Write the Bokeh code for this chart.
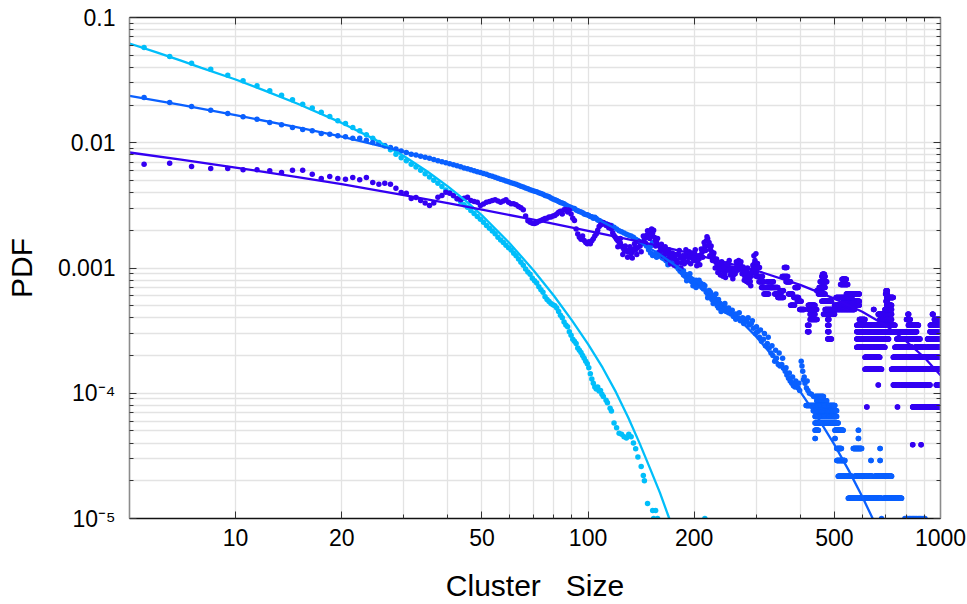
from bokeh.plotting import figure
from bokeh.models import FixedTicker, LogAxis, CustomJSTickFormatter, Range1d
from bokeh.embed import file_html
from bokeh.resources import INLINE

# ---------------- data ----------------
x_tick_values = [10, 20, 50, 100, 200, 500, 1000]
x_tick_labels = ["10", "20", "50", "100", "200", "500", "1000"]
x_minor_values = [30, 40, 60, 70, 80, 90, 300, 400, 600, 700, 800, 900]
y_tick_values = [1e-5, 1e-4, 1e-3, 1e-2, 1e-1]
y_tick_labels = ["10\u207b\u2075", "10\u207b\u2074", "0.001", "0.01", "0.1"]
y_minor_values = [m * d for d in [1e-5, 1e-4, 1e-3, 1e-2] for m in range(2, 10)]

# series 1 (cyan): cluster size, PDF
cyan_points = [(5.5,0.0575),(6.5,0.0489),(7.5,0.0431),(8.5,0.0386),(9.5,0.0346),(10.5,0.0312),(11.5,0.0285),(12.5,0.0260),(13.5,0.0240),(14.5,0.0220),(15.5,0.0203),(16.5,0.0189),(17.5,0.0175),(18.5,0.0162),(19.5,0.0150),(20.5,0.01425),(21.5,0.01324),(22.5,0.01245),(23.5,0.01156),(24.5,0.01088),(25.5,0.01005),(26.5,0.00945),(27.5,0.00878),(28.5,0.0081),(29.5,0.0076),(30.5,0.00717),(31.5,0.00674),(32.5,0.0064),(33.5,0.00603),(34.5,0.00566),(35.5,0.00532),(36.5,0.00503),(37.5,0.00474),(38.5,0.00447),(39.5,0.0042),(40.5,0.004),(41.5,0.00377),(42.5,0.00358),(43.5,0.00338),(44.5,0.0032),(45.5,0.00305),(46.5,0.00288),(47.5,0.00272),(48.5,0.00258),(49.5,0.00245),(50.5,0.00232),(51.5,0.00218),(52.5,0.00208),(53.5,0.00197),(54.5,0.00188),(55.5,0.00176),(56.5,0.00167),(57.5,0.0016),(58.5,0.00152),(59.5,0.00145),(60.5,0.00139),(61.5,0.00131),(62.5,0.00125),(63.5,0.00118),(64.5,0.00111),(65.5,0.00105),(66.5,0.00098),(67.5,0.00093),(68.5,0.00089),(69.5,0.00083),(70.5,0.00079),(71.5,0.00076),(72.5,0.00071),(73.5,0.00067),(74.5,0.00064),(75.5,0.00059),(76.5,0.00056),(77.5,0.00054),(78.5,0.00052),(79.5,0.00051),(80.5,0.0005),(81.5,0.00048),(82.5,0.00045),(83.5,0.00042),(84.5,0.0004),(85.5,0.00037),(86.5,0.00035),(87.5,0.00034),(88.5,0.00031),(89.5,0.00029),(90.5,0.00027),(91.5,0.00026),(92.5,0.00025),(93.5,0.00023),(94.5,0.00022),(95.5,0.000212),(96.5,0.0002),(97.5,0.00019),(98.5,0.00018),(99.5,0.000172),(100.5,0.00016),(101.5,0.000143),(102.5,0.00013),(103.5,0.00012),(104.5,0.000112),(105.5,0.000108),(106.5,0.000112),(107.5,0.000104),(108.5,0.000105),(109.5,0.000098),(110.5,0.000094),(112.5,0.000088),(113.5,0.000084),(115.5,0.000076),(116.5,0.000072),(118.5,0.000058),(120.5,0.000053),(122.5,0.000048),(124.5,0.000047),(126.5,0.000045),(128.5,0.000044),(130.5,0.000047),(132.5,0.000045),(134.5,0.00004),(136.5,0.000036),(138.5,0.000031),(141.5,0.000026),(143.5,0.000022),(144.5,0.00002),(147.5,0.0000132),(152.5,0.0000116),(155.5,0.0000116),(153.5,0.00001),(157.5,0.00001),(214.5,0.00001)]

# series 2 (blue)
blue_points = [(5.5,0.023),(6.5,0.021),(7.5,0.0195),(8.5,0.0182),(9.5,0.0171),(10.5,0.0161),(11.5,0.0154),(12.5,0.0145),(13.5,0.0139),(14.5,0.01324),(15.5,0.01276),(16.5,0.01245),(17.5,0.01185),(18.5,0.0117),(19.5,0.01135),(20.5,0.01116),(21.5,0.01087),(22.5,0.01087),(23.5,0.01047),(24.5,0.01004),(25.5,0.00986),(26.5,0.00945),(27.5,0.00916),(28.5,0.0089),(29.5,0.0086),(30.5,0.00835),(31.5,0.0081),(32.5,0.008),(33.5,0.0078),(34.5,0.00765),(35.5,0.00752),(36.5,0.00735),(37.5,0.00718),(38.5,0.00705),(39.5,0.00692),(40.5,0.0068),(41.5,0.00668),(42.5,0.00655),(43.5,0.00642),(44.5,0.0063),(45.5,0.0062),(46.5,0.00608),(47.5,0.00598),(48.5,0.00588),(49.5,0.00578),(50.5,0.00568),(51.5,0.0056),(52.5,0.00548),(53.5,0.0054),(54.5,0.0053),(55.5,0.0052),(56.5,0.00512),(57.5,0.00504),(58.5,0.00496),(59.5,0.00488),(60.5,0.0048),(61.5,0.00472),(62.5,0.00466),(63.5,0.00458),(64.5,0.0045),(65.5,0.00444),(66.5,0.00436),(67.5,0.0043),(68.5,0.00422),(69.5,0.00416),(70.5,0.0041),(71.5,0.00406),(72.5,0.00398),(73.5,0.00394),(74.5,0.00388),(75.5,0.0038),(76.5,0.00376),(77.5,0.0037),(78.5,0.00362),(79.5,0.00356),(80.5,0.0035),(81.5,0.00346),(82.5,0.0034),(83.5,0.00334),(84.5,0.0033),(85.5,0.00326),(86.5,0.00318),(87.5,0.00312),(88.5,0.00308),(89.5,0.00304),(90.5,0.003),(91.5,0.00298),(92.5,0.0029),(93.5,0.00287),(94.5,0.00282),(95.5,0.0028),(96.5,0.00276),(97.5,0.0027),(98.5,0.00268),(99.5,0.00266),(100.5,0.00262),(101.5,0.00258),(102.5,0.00256),(103.5,0.0025),(104.5,0.00254),(105.5,0.00248),(106.5,0.00242),(107.5,0.0024),(108.5,0.00236),(110.5,0.0023),(112.5,0.00226),(114.5,0.0022),(116.5,0.00218),(118.5,0.00212),(120.5,0.00205),(122.5,0.00198),(124.5,0.00195),(126.5,0.0019),(128.5,0.00186),(130.5,0.00183),(132.5,0.0018),(134.5,0.00176),(136.5,0.0017),(138.5,0.00166),(140.5,0.00162),(142.5,0.0016),(144.5,0.00156),(146.5,0.0015),(148.5,0.0014),(150.5,0.00132),(152.5,0.00126),(154.5,0.00128),(156.5,0.00132),(158.5,0.00128),(160.5,0.00124),(162.5,0.0012),(164.5,0.00118),(166.5,0.00114),(168.5,0.00112),(170.5,0.0011),(172.5,0.00115),(174.5,0.00112),(176.5,0.00108),(178.5,0.00102),(180.5,0.00098),(182.5,0.00094),(184.5,0.00092),(186.5,0.00088),(188.5,0.00086),(190.5,0.00084),(192.5,0.00088),(194.5,0.00082),(196.5,0.00078),(198.5,0.0008),(200.5,0.00076),(202.5,0.0008),(204.5,0.00074),(206.5,0.00072),(208.5,0.00076),(210.5,0.0007),(212.5,0.00068),(214.5,0.00072),(216.5,0.00064),(218.5,0.00062),(220.5,0.00066),(222.5,0.0006),(224.5,0.00056),(226.5,0.00052),(228.5,0.00058),(230.5,0.00054),(232.5,0.0005),(234.5,0.00048),(236.5,0.00052),(238.5,0.00049),(240.5,0.0005),(242.5,0.00046),(244.5,0.00048),(246.5,0.00045),(248.5,0.00047),(250.5,0.00044),(254.5,0.00043),(258.5,0.00041),(262.5,0.00043),(266.5,0.0004),(270.5,0.00038),(274.5,0.0004),(278.5,0.00039),(282.5,0.00037),(286.5,0.00035),(290.5,0.00036),(294.5,0.00033),(298.5,0.0003),(302.5,0.00031),(306.5,0.00028),(310.5,0.00026),(314.5,0.00027),(318.5,0.00024),(322.5,0.00025),(326.5,0.00023),(330.5,0.00021),(334.5,0.0002),(338.5,0.00018),(342.5,0.00019),(346.5,0.00017),(350.5,0.000165),(354.5,0.00017),(358.5,0.000158),(362.5,0.00015),(366.5,0.00014),(370.5,0.000132),(374.5,0.000125),(378.5,0.00012),(382.5,0.000115),(386.5,0.000112),(390.5,0.000118),(394.5,0.00011),(398.5,0.000105),(402.5,0.00018),(404.5,0.000165),(406.5,0.00015),(408.5,0.000128),(412.5,0.00012),(416.5,0.00011),(420.5,0.000105),(424.5,0.0001),(430.5,0.000098),(436.5,0.000094),
  (150.5,0.0015),(152.5,0.0016),(156.5,0.00122),(160.5,0.00132),(164.5,0.00126),(168.5,0.00106),(176.5,0.00118),(182.5,0.001),(186.5,0.00095),(190.5,0.00079),(194.5,0.0009),(198.5,0.00072),(202.5,0.0007),(206.5,0.0008),(212.5,0.00074),(218.5,0.00058),(222.5,0.00064),(226.5,0.0006),(230.5,0.00062),(234.5,0.00056),(238.5,0.00045),(244.5,0.00052),(250.5,0.00048),(256.5,0.00046),(262.5,0.00039),(268.5,0.00044),(276.5,0.00036),(284.5,0.0004),(292.5,0.00038),(300.5,0.00034),(308.5,0.00032),(316.5,0.0003),(324.5,0.00028),(332.5,0.00024),(340.5,0.00022),(348.5,0.00021),(356.5,0.00019),(364.5,0.00016),(372.5,0.000145),(380.5,0.000135),(388.5,0.000125),(396.5,0.00012),(410.5,0.000135),(418.5,0.000125),
  (680.5,0.00001),(792.5,0.00001),(800.5,0.00001),(806.5,0.00001),(815.5,0.00001),(822.5,0.00001),(830.5,0.00001),(838.5,0.00001),(846.5,0.00001),(855.5,0.00001),(864.5,0.00001),(872.5,0.00001),(880.5,0.00001),(892.5,0.00001),(903.5,0.00001)]
blue_quantum = 7.25e-6
blue_runs = [(13,440,465),(12,445,475),(11,415,501),(10,435,507),(9,440,507),(8,440,512),(7,440,450),(7,501,529),(6,440,441),(6,501,502),(6,584,585),(7,584,585),(5,507,523),(5,565,597),(5,673,674),(4,507,535),(4,634,635),(4,673,674),(3,512,560),(3,570,640),(3,650,726),(2,547,600),(2,605,680),(2,690,775)]

# series 3 (violet)
violet_points = [(5.5,0.00674),(6.5,0.00687),(7.5,0.00646),(8.5,0.00622),(9.5,0.00622),(10.5,0.00608),(11.5,0.00608),(12.5,0.00597),(13.5,0.00579),(14.5,0.00604),(15.5,0.00604),(16.5,0.00561),(17.5,0.00519),(18.5,0.00538),(19.5,0.00519),(20.5,0.00512),(21.5,0.00528),(22.5,0.00506),(23.5,0.00528),(24.5,0.00482),(25.5,0.00467),(26.5,0.00475),(27.5,0.00467),(28.5,0.00434),(29.5,0.00401),(30.5,0.00396),(31.5,0.00359),(32.5,0.00366),(33.5,0.00346),(34.5,0.0033),(35.5,0.00315),(36.5,0.0033),(37.5,0.00367),(38.5,0.0038),(39.5,0.00403),(40.5,0.00396),(41.5,0.0038),(42.5,0.00357),(43.5,0.0035),(44.5,0.0036),(45.5,0.00367),(46.5,0.00346),(47.5,0.0034),(48.5,0.00335),(49.5,0.00315),(50.5,0.00325),(51.5,0.00335),(52.5,0.0034),(53.5,0.00346),(54.5,0.0035),(55.5,0.00342),(56.5,0.00335),(57.5,0.00342),(58.5,0.0035),(59.5,0.00335),(60.5,0.00326),(61.5,0.00326),(62.5,0.0032),(63.5,0.0031),(64.5,0.00303),(65.5,0.00292),(66.5,0.0026),(67.5,0.00238),(68.5,0.00232),(69.5,0.00228),(70.5,0.00227),(71.5,0.0023),(72.5,0.00236),(73.5,0.0024),(74.5,0.00244),(75.5,0.00248),(76.5,0.0025),(77.5,0.00255),(78.5,0.00255),(79.5,0.0026),(80.5,0.00263),(81.5,0.0027),(82.5,0.00279),(83.5,0.00284),(84.5,0.0027),(85.5,0.00292),(86.5,0.00292),(87.5,0.0028),(88.5,0.00292),(89.5,0.0027),(90.5,0.0025),(91.5,0.0024),(92.5,0.00205),(93.5,0.00187),(94.5,0.00176),(95.5,0.0017),(96.5,0.0018),(97.5,0.00166),(98.5,0.0016),(99.5,0.00156),(100.5,0.00162),(101.5,0.00156),(102.5,0.00165),(103.5,0.00171),(104.5,0.0018),(105.5,0.00187),(106.5,0.002),(107.5,0.00214),(108.5,0.0022),(109.5,0.00225),(110.5,0.00231),(111.5,0.00225),(112.5,0.00218),(113.5,0.00222),(114.5,0.0021),(115.5,0.00218),(116.5,0.00205),(117.5,0.0019),(118.5,0.00182),(119.5,0.00176),(120.5,0.0017),(121.5,0.00165),(122.5,0.00161),(123.5,0.00158),(124.5,0.0015),(125.5,0.00146),(126.5,0.0014),(127.5,0.00138),(128.5,0.00138),(129.5,0.00134),(130.5,0.00138),(131.5,0.00134),(132.5,0.0013),(133.5,0.00134),(134.5,0.0014),(135.5,0.00143),(136.5,0.0014),(138.5,0.00146),(140.5,0.0015),(142.5,0.0016),(144.5,0.00171),(146.5,0.00182),(148.5,0.0019),(150.5,0.002),(151.5,0.00205),(152.5,0.0019),(154.5,0.00175),(155.5,0.00165),(156.5,0.0016),(158.5,0.00151),(160.5,0.00145),(162.5,0.0014),(164.5,0.00138),(166.5,0.00135),(168.5,0.0013),(170.5,0.00125),(172.5,0.0012),(174.5,0.00122),(176.5,0.00118),(178.5,0.00115),(180.5,0.00128),(182.5,0.0012),(184.5,0.0011),(186.5,0.00118),(188.5,0.00126),(190.5,0.0013),(192.5,0.00122),(194.5,0.00126),(196.5,0.0012),(198.5,0.00126),(200.5,0.00131),(202.5,0.0012),(204.5,0.00112),(206.5,0.00118),(208.5,0.00126),(210.5,0.00133),(212.5,0.00138),(214.5,0.0015),(216.5,0.00165),(218.5,0.00171),(220.5,0.0016),(222.5,0.0014),(224.5,0.00134),(226.5,0.00125),(228.5,0.00118),(230.5,0.00111),(232.5,0.00105),(234.5,0.001),(236.5,0.00095),(238.5,0.00098),(240.5,0.00105),(242.5,0.00095),(244.5,0.0009),(246.5,0.00098),(248.5,0.00101),(250.5,0.00108),(252.5,0.001),(254.5,0.00094),(256.5,0.0009),(258.5,0.00088),(260.5,0.00092),(262.5,0.001),(264.5,0.00108),(266.5,0.00104),(268.5,0.0011),(270.5,0.00106),(272.5,0.001),(274.5,0.00096),(276.5,0.0009),(278.5,0.00086),(280.5,0.00085),(282.5,0.00094),(284.5,0.0009),(286.5,0.00082),(288.5,0.00078),(290.5,0.00086),(292.5,0.00095),
  (121.5,0.00148),(123.5,0.00172),(125.5,0.00128),(127.5,0.0015),(129.5,0.00122),(131.5,0.00148),(133.5,0.0012),(135.5,0.00156),(137.5,0.00128),(139.5,0.00162),(141.5,0.00135),(143.5,0.0018),(145.5,0.00158),(147.5,0.00198),(149.5,0.00172),(151.5,0.00185),(153.5,0.002),(155.5,0.0015),(157.5,0.00172),(159.5,0.00135),(161.5,0.00155),(163.5,0.00125),(165.5,0.00148),(167.5,0.00118),(169.5,0.0014),(171.5,0.00108),(173.5,0.00132),(175.5,0.00105),(177.5,0.00128),(179.5,0.0011),(181.5,0.00138),(183.5,0.001),(185.5,0.00125),(187.5,0.00108),(189.5,0.0014),(191.5,0.00112),(193.5,0.00135),(195.5,0.00108),(197.5,0.00132),(199.5,0.00115),(201.5,0.0014),(203.5,0.00104),(205.5,0.00125),(207.5,0.00106),(209.5,0.00142),(211.5,0.00122),(213.5,0.0016),(215.5,0.00138),(217.5,0.00178),(219.5,0.0015),(221.5,0.00125),(223.5,0.0015),(225.5,0.00115),(227.5,0.00132),(229.5,0.001),(231.5,0.00118),(233.5,0.00092),(235.5,0.00108),(237.5,0.00088),(239.5,0.00112),(241.5,0.00086),(243.5,0.00102),(245.5,0.00084),(247.5,0.00108),(249.5,0.00096),(251.5,0.00115),(253.5,0.00088),(255.5,0.001),(257.5,0.00082),(259.5,0.00098),(261.5,0.0009),(263.5,0.00112),(265.5,0.00096),(267.5,0.00115),(269.5,0.00098),(271.5,0.00112),(273.5,0.0009),(275.5,0.00102),(277.5,0.0008),(279.5,0.00092),(281.5,0.00078),(283.5,0.001),(285.5,0.00076),(287.5,0.00088),(289.5,0.00072),(291.5,0.00092),(293.5,0.00105),(295.5,0.00125),(297.5,0.00115),(299.5,0.0013)]
violet_quantum = 3.88e-5
violet_runs = [(28,296,302),(26,294,306),(24,292,300),(22,300,312),(20,305,315),(18,310,330),(16,315,325),(20,322,335),(18,330,345),(16,338,352),(15,345,358),(17,350,358),(22,355,368),(26,360,366),(20,364,375),(16,370,380),(13,375,385),(15,383,395),(18,386,394),(14,392,402),(12,398,410),
  (8,419,423),(9,419,423),(10,426,446),(11,426,440),(11,465,500),(12,421,445),(12,470,570),(13,421,440),(13,500,588),(14,460,490),(14,530,588),(15,505,560),(16,450,470),(16,540,588),(17,445,460),(18,452,470),(19,520,545),(20,455,475),(21,525,540),(22,460,470),(23,462,468),(10,478,482),(9,478,482),(8,478,482),(7,478,490),
  (3,665,666),(3,734,763),(3,775,933),(3,972,1000),(4,610,680),(4,726,1000),(5,610,672),(5,734,1000),(6,578,695),(6,742,830),(6,845,906),(6,915,1000),(7,578,712),(7,751,874),(7,918,990),(8,578,855),(8,933,1000),(9,578,742),(9,810,865),(9,935,1000),(10,588,610),(10,672,726),(10,800,820),(10,960,1000),(11,665,726),(11,808,812),(11,948,952),(12,645,647),(12,695,726),(13,703,726),(14,700,706),(15,703,734),(16,698,706),(17,700,706),(2,617,618),(2,754,755),(2,833,993),(1,833,834),(1,880,881)]

# fitted curves
cyan_fit_x = [5, 6, 7, 8, 10, 12, 15, 20, 25, 30, 35, 40, 45, 50, 60, 70, 80, 90, 100, 110, 120, 130, 140, 150, 160, 170, 180, 190]
cyan_fit_y = [0.062, 0.0524, 0.0452, 0.0396, 0.032, 0.0263, 0.0205, 0.0144, 0.01054, 0.00785, 0.0059, 0.00449, 0.00343, 0.00263, 0.00157, 0.00096, 0.0006, 0.000382, 0.000247, 0.00016, 0.000102, 0.000064, 0.00004, 0.000025, 0.000016, 0.00001, 0.0000062, 0.0000038]
blue_fit_x = [5, 7, 10, 15, 20, 30, 40, 50, 60, 80, 100, 130, 160, 200, 250, 300, 350, 400, 450, 500, 550, 600, 650, 700]
blue_fit_y = [0.0237, 0.02005, 0.01663, 0.01327, 0.01117, 0.00851, 0.00685, 0.00568, 0.00479, 0.00353, 0.00268, 0.00183, 0.00128, 0.00082, 0.000476, 0.000283, 0.00017, 0.000103, 0.000063, 0.0000389, 0.000024, 0.0000149, 0.0000093, 0.0000058]
violet_fit_x = [5, 7, 10, 15, 20, 30, 40, 50, 70, 100, 150, 200, 300, 400, 500, 600, 700, 800, 900, 1000]
violet_fit_y = [0.00836, 0.00733, 0.00634, 0.00531, 0.00467, 0.00382, 0.0033, 0.00292, 0.00243, 0.00198, 0.00156, 0.00129, 0.000955, 0.000733, 0.000569, 0.000447, 0.000347, 0.00026, 0.000193, 0.000139]

CYAN = "#00BEFA"
BLUE = "#0A60FF"
VIOLET = "#3400F2"
FONT = "Liberation Sans"


def split(points):
    return [a for a, b in points], [b for a, b in points]


def expand(runs, q):
    xs, ys = [], []
    for lvl, a, b in runs:
        for k in range(a, b + 1):
            xs.append(k + 0.5)
            ys.append(lvl * q)
    return xs, ys


p = figure(width=967, height=604, x_axis_type="log", y_axis_type="log",
           x_range=Range1d(5, 1000), y_range=Range1d(1e-5, 0.1),
           output_backend="svg", toolbar_location=None,
           min_border_left=129, min_border_right=27, min_border_top=17, min_border_bottom=86)
p.outline_line_color = None
p.background_fill_color = "white"
p.border_fill_color = "white"

xt = FixedTicker(ticks=x_tick_values, minor_ticks=x_minor_values)
yt = FixedTicker(ticks=y_tick_values, minor_ticks=y_minor_values)

fmt_code = """
let best = 0, d = 1e9;
for (let i = 0; i < vals.length; i++) {
  const e = Math.abs(Math.log10(vals[i]) - Math.log10(tick));
  if (e < d) { d = e; best = i; }
}
return labels[best];
"""

xa = p.below[0]
ya = p.left[0]
xa.ticker = xt
ya.ticker = yt
xa.formatter = CustomJSTickFormatter(args=dict(vals=x_tick_values, labels=x_tick_labels), code=fmt_code)
ya.formatter = CustomJSTickFormatter(args=dict(vals=y_tick_values, labels=y_tick_labels), code=fmt_code)

for ax, col in ((xa, "#111111"), (ya, "#8c8c8c")):
    ax.axis_line_color = col
    ax.axis_line_width = 1.6
    ax.major_tick_line_color = "#333333"
    ax.minor_tick_line_color = "#333333"
    ax.major_tick_in = 7
    ax.major_tick_out = 0
    ax.minor_tick_in = 4
    ax.minor_tick_out = 0
    ax.major_label_text_font = FONT
    ax.major_label_text_font_size = "23px"
    ax.major_label_text_color = "black"
    ax.axis_label_text_font = FONT
    ax.axis_label_text_font_size = "30px"
    ax.axis_label_text_font_style = "normal"
    ax.axis_label_text_color = "black"

xa.axis_label = "Cluster\u00a0\u00a0\u00a0Size"
ya.axis_label = "PDF"
xa.major_label_standoff = 10
xa.axis_label_standoff = 20
ya.major_label_standoff = 14
ya.axis_label_standoff = 17

top = LogAxis(ticker=xt, formatter=CustomJSTickFormatter(code="return ''"),
              major_label_text_font_size="0px", axis_line_color="#222222", axis_line_width=1.6,
              major_tick_in=7, major_tick_out=0, minor_tick_in=4, minor_tick_out=0,
              major_tick_line_color="#333333", minor_tick_line_color="#333333")
right = LogAxis(ticker=yt, formatter=CustomJSTickFormatter(code="return ''"),
                major_label_text_font_size="0px", axis_line_color="#8c8c8c", axis_line_width=1.6,
                major_tick_in=7, major_tick_out=0, minor_tick_in=4, minor_tick_out=0,
                major_tick_line_color="#333333", minor_tick_line_color="#333333")
p.add_layout(top, "above")
p.add_layout(right, "right")

for g, t in ((p.xgrid[0], xt), (p.ygrid[0], yt)):
    g.ticker = t
    g.grid_line_color = "#e3e3e3"
    g.grid_line_width = 1.3
    g.minor_grid_line_color = "#e3e3e3"
    g.minor_grid_line_width = 1.3

cx, cy = split(cyan_points)
bx, by = split(blue_points)
brx, bry = expand(blue_runs, blue_quantum)
vx, vy = split(violet_points)
vrx, vry = expand(violet_runs, violet_quantum)

p.scatter(cx, cy, size=5.5, fill_color=CYAN, line_color=None)
p.scatter(bx + brx, by + bry, size=5.5, fill_color=BLUE, line_color=None)
p.scatter(vx + vrx, vy + vry, size=5.5, fill_color=VIOLET, line_color=None)

p.line(cyan_fit_x, cyan_fit_y, line_width=2.3, line_color=CYAN)
p.line(blue_fit_x, blue_fit_y, line_width=2.3, line_color=BLUE)
p.line(violet_fit_x, violet_fit_y, line_width=2.3, line_color=VIOLET)

open("out.html", "w").write(file_html(p, INLINE))
